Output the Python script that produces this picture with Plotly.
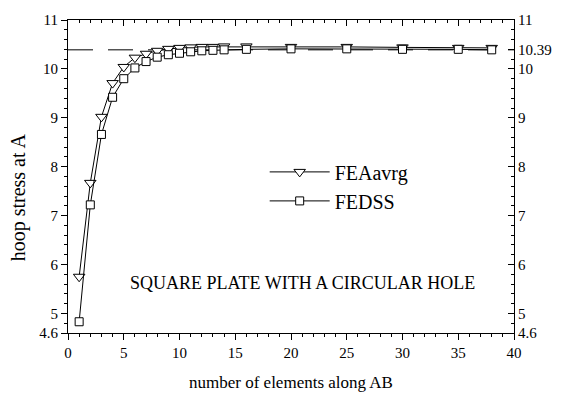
import plotly.graph_objects as go

n_elements = [1, 2, 3, 4, 5, 6, 7, 8, 9, 10, 11, 12, 13, 14, 16, 20, 25, 30, 35, 38]
fea_avrg = [5.75, 7.67, 9.02, 9.71, 10.04, 10.23, 10.31, 10.37, 10.41, 10.43, 10.44,
            10.45, 10.45, 10.46, 10.46, 10.45, 10.45, 10.44, 10.43, 10.43]
fedss = [4.83, 7.22, 8.66, 9.42, 9.80, 10.02, 10.15, 10.24, 10.29, 10.32, 10.35,
         10.37, 10.38, 10.39, 10.40, 10.41, 10.41, 10.40, 10.40, 10.39]
ref_x = [0, 40]
ref_y = [10.39, 10.39]

x_ticks = [0, 5, 10, 15, 20, 25, 30, 35, 40]
left_ticks = [4.6, 5, 6, 7, 8, 9, 10, 11]
right_ticks = [4.6, 5, 6, 7, 8, 9, 10, 10.39, 11]
minor_y = [round(4.6 + 0.2 * i, 2) for i in range(33)]
minor_x = list(range(0, 41))

FONT = "Liberation Serif"

fig = go.Figure()
fig.add_trace(go.Scatter(x=ref_x, y=ref_y, mode="lines", showlegend=False,
                         line=dict(color="black", width=1, dash="25px,15px")))
fig.add_trace(go.Scatter(x=n_elements, y=fea_avrg, mode="lines+markers", name="FEAavrg",
                         line=dict(color="black", width=1),
                         marker=dict(symbol="triangle-down", size=10, color="white",
                                     line=dict(color="black", width=1))))
fig.add_trace(go.Scatter(x=n_elements, y=fedss, mode="lines+markers", name="FEDSS",
                         line=dict(color="black", width=1),
                         marker=dict(symbol="square", size=8, color="white",
                                     line=dict(color="black", width=1))))
# invisible trace to activate mirrored axes
fig.add_trace(go.Scatter(x=ref_x, y=ref_y, xaxis="x2", yaxis="y2", mode="lines",
                         line=dict(width=0), showlegend=False, hoverinfo="skip"))

axis_common = dict(showgrid=False, zeroline=False, showline=True, linecolor="black",
                   linewidth=1, tickcolor="black",
                   tickfont=dict(family=FONT, size=15, color="black"))

fig.update_layout(
    width=564, height=396,
    margin=dict(l=68, r=47, t=16, b=63),
    paper_bgcolor="white", plot_bgcolor="white",
    font=dict(family=FONT, size=15, color="black"),
    xaxis=dict(range=[0, 40], tickvals=x_ticks, ticks="outside", ticklen=6,
               minor=dict(tickvals=minor_x, ticks="outside", ticklen=3, tickcolor="black"),
               **axis_common),
    yaxis=dict(range=[4.6, 11], tickvals=left_ticks, ticktext=[str(v) for v in left_ticks],
               ticks="outside", ticklen=6,
               minor=dict(tickvals=minor_y, ticks="outside", ticklen=3, tickcolor="black"),
               **axis_common),
    xaxis2=dict(range=[0, 40], overlaying="x", side="top", anchor="y2",
                tickvals=x_ticks, ticks="inside", ticklen=6, showticklabels=False,
                minor=dict(tickvals=minor_x, ticks="inside", ticklen=3, tickcolor="black"),
                **axis_common),
    yaxis2=dict(range=[4.6, 11], overlaying="y", side="right", anchor="x2",
                tickvals=right_ticks, ticktext=[str(v) for v in right_ticks],
                ticks="inside", ticklen=6,
                minor=dict(tickvals=minor_y, ticks="inside", ticklen=3, tickcolor="black"),
                **axis_common),
    legend=dict(x=0.441, y=0.577, xanchor="left", yanchor="top", itemwidth=60,
                bgcolor="rgba(0,0,0,0)", font=dict(family=FONT, size=20, color="black")),
    annotations=[
        dict(text="SQUARE PLATE WITH A CIRCULAR HOLE", xref="paper", yref="paper",
             x=0.526, y=0.123, showarrow=False,
             font=dict(family=FONT, size=18, color="black")),
        dict(text="number of elements along AB", xref="paper", yref="paper",
             x=0.5, y=-0.158, xanchor="center", yanchor="middle", showarrow=False,
             font=dict(family=FONT, size=17, color="black")),
        dict(text="hoop stress at A", xref="paper", yref="paper", textangle=-90,
             x=-0.111, y=0.435, xanchor="center", yanchor="middle", showarrow=False,
             font=dict(family=FONT, size=20, color="black")),
    ],
)

fig.write_html("out.html")
